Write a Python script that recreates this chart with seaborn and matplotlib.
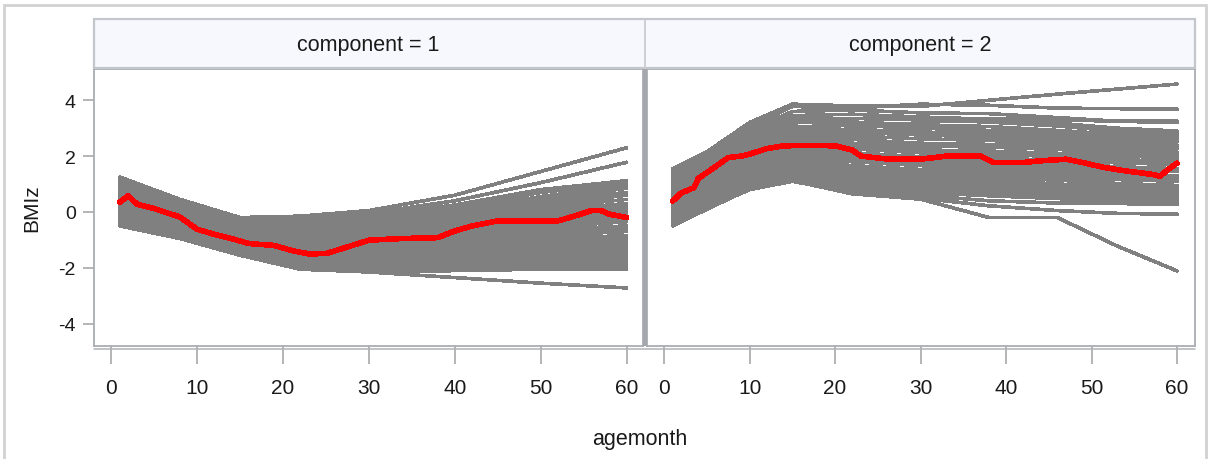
import matplotlib
matplotlib.use("Agg")
import matplotlib.pyplot as plt
from matplotlib.lines import Line2D
from matplotlib.patches import Rectangle
import pandas as pd
import seaborn as sns

# Trajectories, BMIz at the knot ages of each panel
AGE_KNOTS_1 = [1, 8, 15, 22, 30, 40, 50, 60]
TRAJ_1 = [
    [1.25, 0.45, -0.20, -0.15, 0.05, 0.60, 1.45, 2.30],
    [1.15, 0.40, -0.25, -0.25, -0.05, 0.40, 1.05, 1.78],
    [1.05, 0.30, -0.30, -0.35, -0.15, 0.25, 0.80, 1.12],
    [0.95, 0.25, -0.32, -0.45, -0.25, 0.15, 0.70, 1.05],
    [0.90, 0.20, -0.35, -0.55, -0.30, 0.05, 0.55, 0.95],
    [0.85, 0.10, -0.40, -0.60, -0.40, -0.05, 0.45, 0.85],
    [0.80, 0.05, -0.50, -0.70, -0.45, -0.15, 0.35, 0.70],
    [0.75, 0.00, -0.55, -0.80, -0.55, -0.20, 0.25, 0.60],
    [0.70, -0.05, -0.60, -0.85, -0.60, -0.30, 0.15, 0.45],
    [0.65, -0.10, -0.65, -0.95, -0.70, -0.40, 0.05, 0.30],
    [0.60, -0.15, -0.70, -1.00, -0.80, -0.50, -0.05, 0.20],
    [0.55, -0.20, -0.75, -1.10, -0.85, -0.55, -0.15, 0.10],
    [0.50, -0.25, -0.80, -1.15, -0.95, -0.65, -0.25, 0.00],
    [0.45, -0.30, -0.85, -1.20, -1.00, -0.75, -0.35, -0.15],
    [0.40, -0.35, -0.90, -1.30, -1.10, -0.85, -0.45, -0.25],
    [0.35, -0.40, -0.95, -1.35, -1.15, -0.90, -0.55, -0.35],
    [0.30, -0.45, -1.00, -1.40, -1.20, -1.00, -0.65, -0.50],
    [0.25, -0.45, -1.05, -1.45, -1.30, -1.10, -0.75, -0.60],
    [0.20, -0.50, -1.10, -1.50, -1.35, -1.15, -0.85, -0.70],
    [0.15, -0.55, -1.15, -1.55, -1.40, -1.25, -0.95, -0.85],
    [0.10, -0.60, -1.20, -1.60, -1.50, -1.30, -1.05, -0.95],
    [0.05, -0.65, -1.25, -1.65, -1.55, -1.40, -1.15, -1.05],
    [0.00, -0.65, -1.25, -1.70, -1.60, -1.45, -1.25, -1.15],
    [-0.05, -0.70, -1.30, -1.75, -1.65, -1.55, -1.35, -1.25],
    [-0.10, -0.75, -1.35, -1.80, -1.75, -1.60, -1.45, -1.40],
    [-0.15, -0.80, -1.40, -1.85, -1.80, -1.70, -1.55, -1.50],
    [-0.20, -0.80, -1.40, -1.90, -1.85, -1.75, -1.60, -1.60],
    [-0.25, -0.85, -1.45, -1.95, -1.95, -1.85, -1.70, -1.65],
    [-0.30, -0.85, -1.50, -1.95, -2.00, -1.90, -1.80, -1.75],
    [-0.35, -0.90, -1.50, -2.00, -2.05, -2.00, -1.90, -1.90],
    [-0.40, -0.90, -1.55, -2.00, -2.10, -2.05, -2.00, -2.00],
    [-0.45, -0.95, -1.55, -2.05, -2.15, -2.10, -2.05, -2.05],
    [-0.50, -0.95, -1.55, -2.00, -2.15, -2.35, -2.55, -2.72],
    [0.20, -0.40, -0.95, -1.25, -0.95, -0.45, 0.20, 0.90],
    [0.60, -0.10, -0.70, -1.05, -1.05, -1.10, -1.25, -1.45],
    [0.90, 0.15, -0.45, -0.75, -0.90, -1.20, -1.60, -1.90],
]
MEAN_AGE_1 = [1, 2, 3, 5, 8, 10, 12, 14, 16, 19, 21, 23, 25, 27, 30, 34, 38,
              40, 42, 45, 48, 52, 54, 56, 57, 58, 60]
MEAN_BMIZ_1 = [0.35, 0.58, 0.28, 0.12, -0.18, -0.62, -0.80, -0.95, -1.13, -1.20,
               -1.38, -1.50, -1.49, -1.30, -1.01, -0.95, -0.92, -0.68, -0.50,
               -0.32, -0.32, -0.32, -0.14, 0.06, 0.05, -0.08, -0.20]

AGE_KNOTS_2 = [1, 5, 10, 15, 22, 30, 38, 46, 53, 60]
TRAJ_2 = [
    [1.55, 2.15, 3.20, 3.86, 3.80, 3.78, 4.00, 4.22, 4.40, 4.58],
    [1.50, 2.05, 3.05, 3.78, 3.72, 3.86, 3.82, 3.72, 3.70, 3.68],
    [1.45, 2.00, 2.92, 3.60, 3.65, 3.55, 3.52, 3.38, 3.25, 3.20],
    [1.40, 1.95, 2.82, 3.45, 3.50, 3.40, 3.32, 3.18, 3.00, 2.90],
    [1.35, 1.90, 2.72, 3.30, 3.35, 3.30, 3.22, 3.08, 2.90, 2.80],
    [1.30, 1.82, 2.62, 3.20, 3.22, 3.12, 3.06, 2.92, 2.78, 2.70],
    [1.22, 1.75, 2.55, 3.05, 3.10, 3.00, 2.92, 2.82, 2.68, 2.60],
    [1.12, 1.66, 2.46, 2.95, 2.96, 2.86, 2.80, 2.70, 2.58, 2.50],
    [1.02, 1.56, 2.36, 2.82, 2.85, 2.76, 2.68, 2.60, 2.46, 2.40],
    [0.95, 1.50, 2.26, 2.72, 2.72, 2.62, 2.56, 2.48, 2.36, 2.30],
    [0.86, 1.40, 2.20, 2.62, 2.60, 2.46, 2.42, 2.34, 2.22, 2.15],
    [0.80, 1.35, 2.10, 2.52, 2.46, 2.36, 2.32, 2.24, 2.12, 2.05],
    [0.70, 1.26, 2.02, 2.42, 2.36, 2.22, 2.18, 2.10, 2.00, 1.95],
    [0.64, 1.20, 1.95, 2.32, 2.26, 2.12, 2.08, 1.98, 1.88, 1.80],
    [0.56, 1.10, 1.86, 2.22, 2.12, 1.98, 1.92, 1.84, 1.76, 1.70],
    [0.50, 1.05, 1.76, 2.12, 2.02, 1.86, 1.82, 1.74, 1.62, 1.55],
    [0.40, 0.96, 1.66, 2.02, 1.90, 1.76, 1.68, 1.60, 1.50, 1.45],
    [0.35, 0.90, 1.60, 1.92, 1.80, 1.66, 1.58, 1.48, 1.38, 1.30],
    [0.26, 0.80, 1.50, 1.82, 1.66, 1.52, 1.46, 1.36, 1.26, 1.20],
    [0.20, 0.75, 1.45, 1.72, 1.56, 1.42, 1.34, 1.24, 1.16, 1.10],
    [0.10, 0.66, 1.36, 1.64, 1.46, 1.32, 1.24, 1.14, 1.02, 0.95],
    [0.05, 0.60, 1.30, 1.56, 1.36, 1.22, 1.14, 1.00, 0.90, 0.85],
    [0.00, 0.50, 1.20, 1.46, 1.26, 1.12, 1.02, 0.90, 0.80, 0.75],
    [-0.10, 0.45, 1.10, 1.40, 1.16, 1.02, 0.90, 0.80, 0.70, 0.65],
    [-0.15, 0.40, 1.04, 1.32, 1.06, 0.92, 0.80, 0.70, 0.60, 0.55],
    [-0.22, 0.30, 0.96, 1.25, 1.00, 0.82, 0.70, 0.60, 0.50, 0.45],
    [-0.30, 0.24, 0.90, 1.20, 0.90, 0.70, 0.58, 0.48, 0.40, 0.36],
    [-0.36, 0.18, 0.86, 1.15, 0.80, 0.60, 0.40, 0.32, 0.30, 0.28],
    [-0.44, 0.14, 0.80, 1.10, 0.70, 0.50, 0.22, 0.05, -0.05, -0.08],
    [-0.50, 0.10, 0.82, 1.12, 0.65, 0.46, -0.20, -0.20, -1.22, -2.11],
    [1.50, 2.00, 2.70, 3.10, 2.70, 2.30, 2.00, 1.80, 1.60, 1.50],
    [0.30, 1.00, 2.00, 2.70, 3.00, 3.20, 3.35, 3.30, 3.25, 3.25],
    [0.90, 1.60, 2.60, 3.40, 3.20, 2.90, 2.60, 2.40, 2.30, 2.25],
    [-0.20, 0.40, 1.15, 1.50, 1.40, 1.50, 1.60, 1.70, 1.80, 1.90],
]
MEAN_AGE_2 = [1, 2, 3.5, 4, 6, 7.5, 9, 10, 12, 14, 17, 20, 22, 23, 26, 30, 33,
              37, 38.5, 42, 44, 47, 49, 51.5, 54, 57, 58, 59, 60]
MEAN_BMIZ_2 = [0.39, 0.68, 0.87, 1.20, 1.62, 1.95, 2.00, 2.07, 2.27, 2.37, 2.38,
               2.37, 2.22, 2.00, 1.90, 1.89, 2.00, 2.00, 1.77, 1.77, 1.83, 1.89,
               1.77, 1.59, 1.47, 1.35, 1.28, 1.53, 1.75]

PANEL_TITLES = ["component = 1", "component = 2"]
X_TICKS = [0, 10, 20, 30, 40, 50, 60]
Y_TICKS = [-4, -2, 0, 2, 4]

W, H = 1210, 460
FRAME = "#a9adb2"
FONT = ["Liberation Sans", "DejaVu Sans"]


def to_long(ages, trajs):
    rows = []
    for i, traj in enumerate(trajs):
        for a, v in zip(ages, traj):
            rows.append({"id": i, "agemonth": a, "BMIz": v})
    return pd.DataFrame(rows)


def fx(px):
    return px / W


def fy(py):
    return 1 - py / H


sns.set_style("white")
plt.rcParams["font.family"] = FONT

fig = plt.figure(figsize=(W / 100, H / 100), dpi=100)
ax1 = fig.add_axes([fx(94), fy(347), (643 - 94) / W, 277 / H])
ax2 = fig.add_axes([fx(647), fy(347), (1195 - 647) / W, 277 / H], sharey=ax1)

panels = [
    (ax1, AGE_KNOTS_1, TRAJ_1, MEAN_AGE_1, MEAN_BMIZ_1, (-2.0, 61.9)),
    (ax2, AGE_KNOTS_2, TRAJ_2, MEAN_AGE_2, MEAN_BMIZ_2, (-2.0, 62.1)),
]
for ax, ages, trajs, m_age, m_val, xlim in panels:
    df = to_long(ages, trajs)
    sns.lineplot(data=df, x="agemonth", y="BMIz", units="id", estimator=None,
                 color="#808080", lw=1.9, ax=ax, legend=False, antialiased=False)
    sns.lineplot(x=m_age, y=m_val, color="#ff0000", lw=3.3, ax=ax, antialiased=False)
    ax.set_xlim(*xlim)
    ax.set_ylim(-4.8, 5.12)
    ax.set_xticks(X_TICKS)
    ax.set_xlabel("")
    ax.set_ylabel("")
    ax.grid(False)
    for sp in ax.spines.values():
        sp.set_color(FRAME)
        sp.set_linewidth(1.3)
    ax.tick_params(axis="x", direction="out", length=13, width=1.1,
                   color="#a0a0a0", pad=10, labelsize=15, labelcolor="#1a1a1a",
                   bottom=True)

ax1.set_yticks(Y_TICKS)
ax1.set_yticklabels([str(v) for v in Y_TICKS])
ax1.tick_params(axis="y", direction="out", length=8, width=1.1, color="#a0a0a0",
                pad=5, labelsize=14, labelcolor="#1a1a1a", left=True)
ax2.tick_params(axis="y", left=False, labelleft=False)

# separator between panels
fig.patches.append(Rectangle((fx(643), fy(347)), 4 / W, 277 / H, transform=fig.transFigure,
                             fc="#a4a8ad", ec="none", zorder=5))
# detached x axis line under the panels
fig.add_artist(Line2D([fx(94), fx(1195)], [fy(350), fy(350)], color="#b0b3b7", lw=1.1))

# facet headers
fig.patches.append(Rectangle((fx(94), fy(69)), (1195 - 94) / W, 49 / H, transform=fig.transFigure,
                             fc="#f7f8fd", ec="#c3c7cc", lw=1.6, zorder=1))
fig.add_artist(Line2D([fx(644.5), fx(644.5)], [fy(69), fy(20)], color="#c8ccd0", lw=1.3))
fig.text(fx(368), fy(46), PANEL_TITLES[0], ha="center", va="center", fontsize=15.5,
         color="#1a1a1a")
fig.text(fx(920), fy(46), PANEL_TITLES[1], ha="center", va="center", fontsize=15.5,
         color="#1a1a1a")

fig.text(fx(640), fy(440), "agemonth", ha="center", va="center", fontsize=15.5,
         color="#1a1a1a")
fig.text(fx(32), fy(208), "BMIz", ha="center", va="center", rotation=90, fontsize=15,
         color="#1a1a1a")

# outer border
fig.patches.append(Rectangle((fx(4), -0.02), 1202 / W, 1 - 6 / H + 0.02, transform=fig.transFigure,
                             fill=False, ec="#d2d2d2", lw=2))

fig.savefig("out.png", dpi=100)
